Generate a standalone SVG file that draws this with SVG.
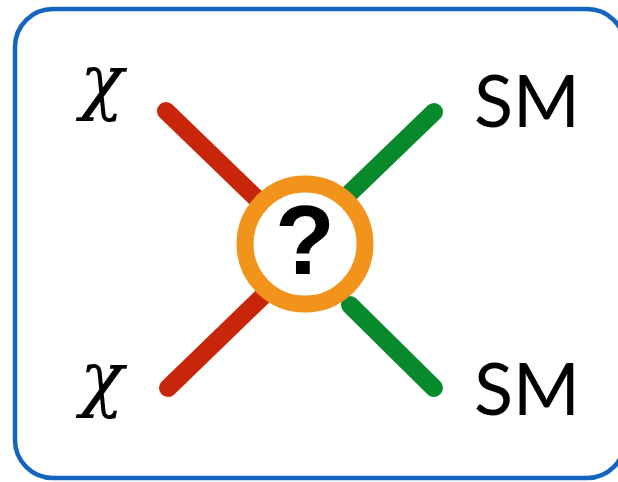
<svg xmlns="http://www.w3.org/2000/svg" width="618" height="482" viewBox="0 0 618 482">
<style>
.frame{fill:#ffffff;stroke:#1565c0;stroke-width:4.5}
.lbl{font-family:"DejaVu Serif","Liberation Serif",serif;font-style:italic;font-size:72px;fill:#000}
.sm{font-family:Lato,"Liberation Sans",sans-serif;font-size:72px;fill:#000}
.red{stroke:#c8260a;stroke-width:18;stroke-linecap:round;fill:none}
.green{stroke:#088a2c;stroke-width:18;stroke-linecap:round;fill:none}
.ring{stroke:#f2931c;stroke-width:17;fill:none}
.q{font-family:"Liberation Sans",Arial,sans-serif;font-weight:bold;font-size:98px;fill:#000}
</style>
<rect class="frame" x="15" y="9" width="610" height="469" rx="38"/>
<g id="connectors">
<line class="red" x1="166" y1="111" x2="256" y2="198"/>
<line class="red" x1="168" y1="388" x2="262" y2="297"/>
<line class="green" x1="350" y1="193" x2="434" y2="112"/>
<line class="green" x1="350" y1="305" x2="434" y2="388"/>
</g>
<g id="vertex">
<circle class="ring" cx="305" cy="244" r="60"/>
<text class="q" x="305" y="274" text-anchor="middle">?</text>
</g>
<g id="chi-top"><text class="lbl" x="80" y="106">χ</text></g>
<g id="chi-bottom"><text class="lbl" x="80" y="403">χ</text></g>
<g id="sm-top"><text class="sm" x="474" y="127">SM</text></g>
<g id="sm-bottom"><text class="sm" x="474" y="415">SM</text></g>
</svg>
